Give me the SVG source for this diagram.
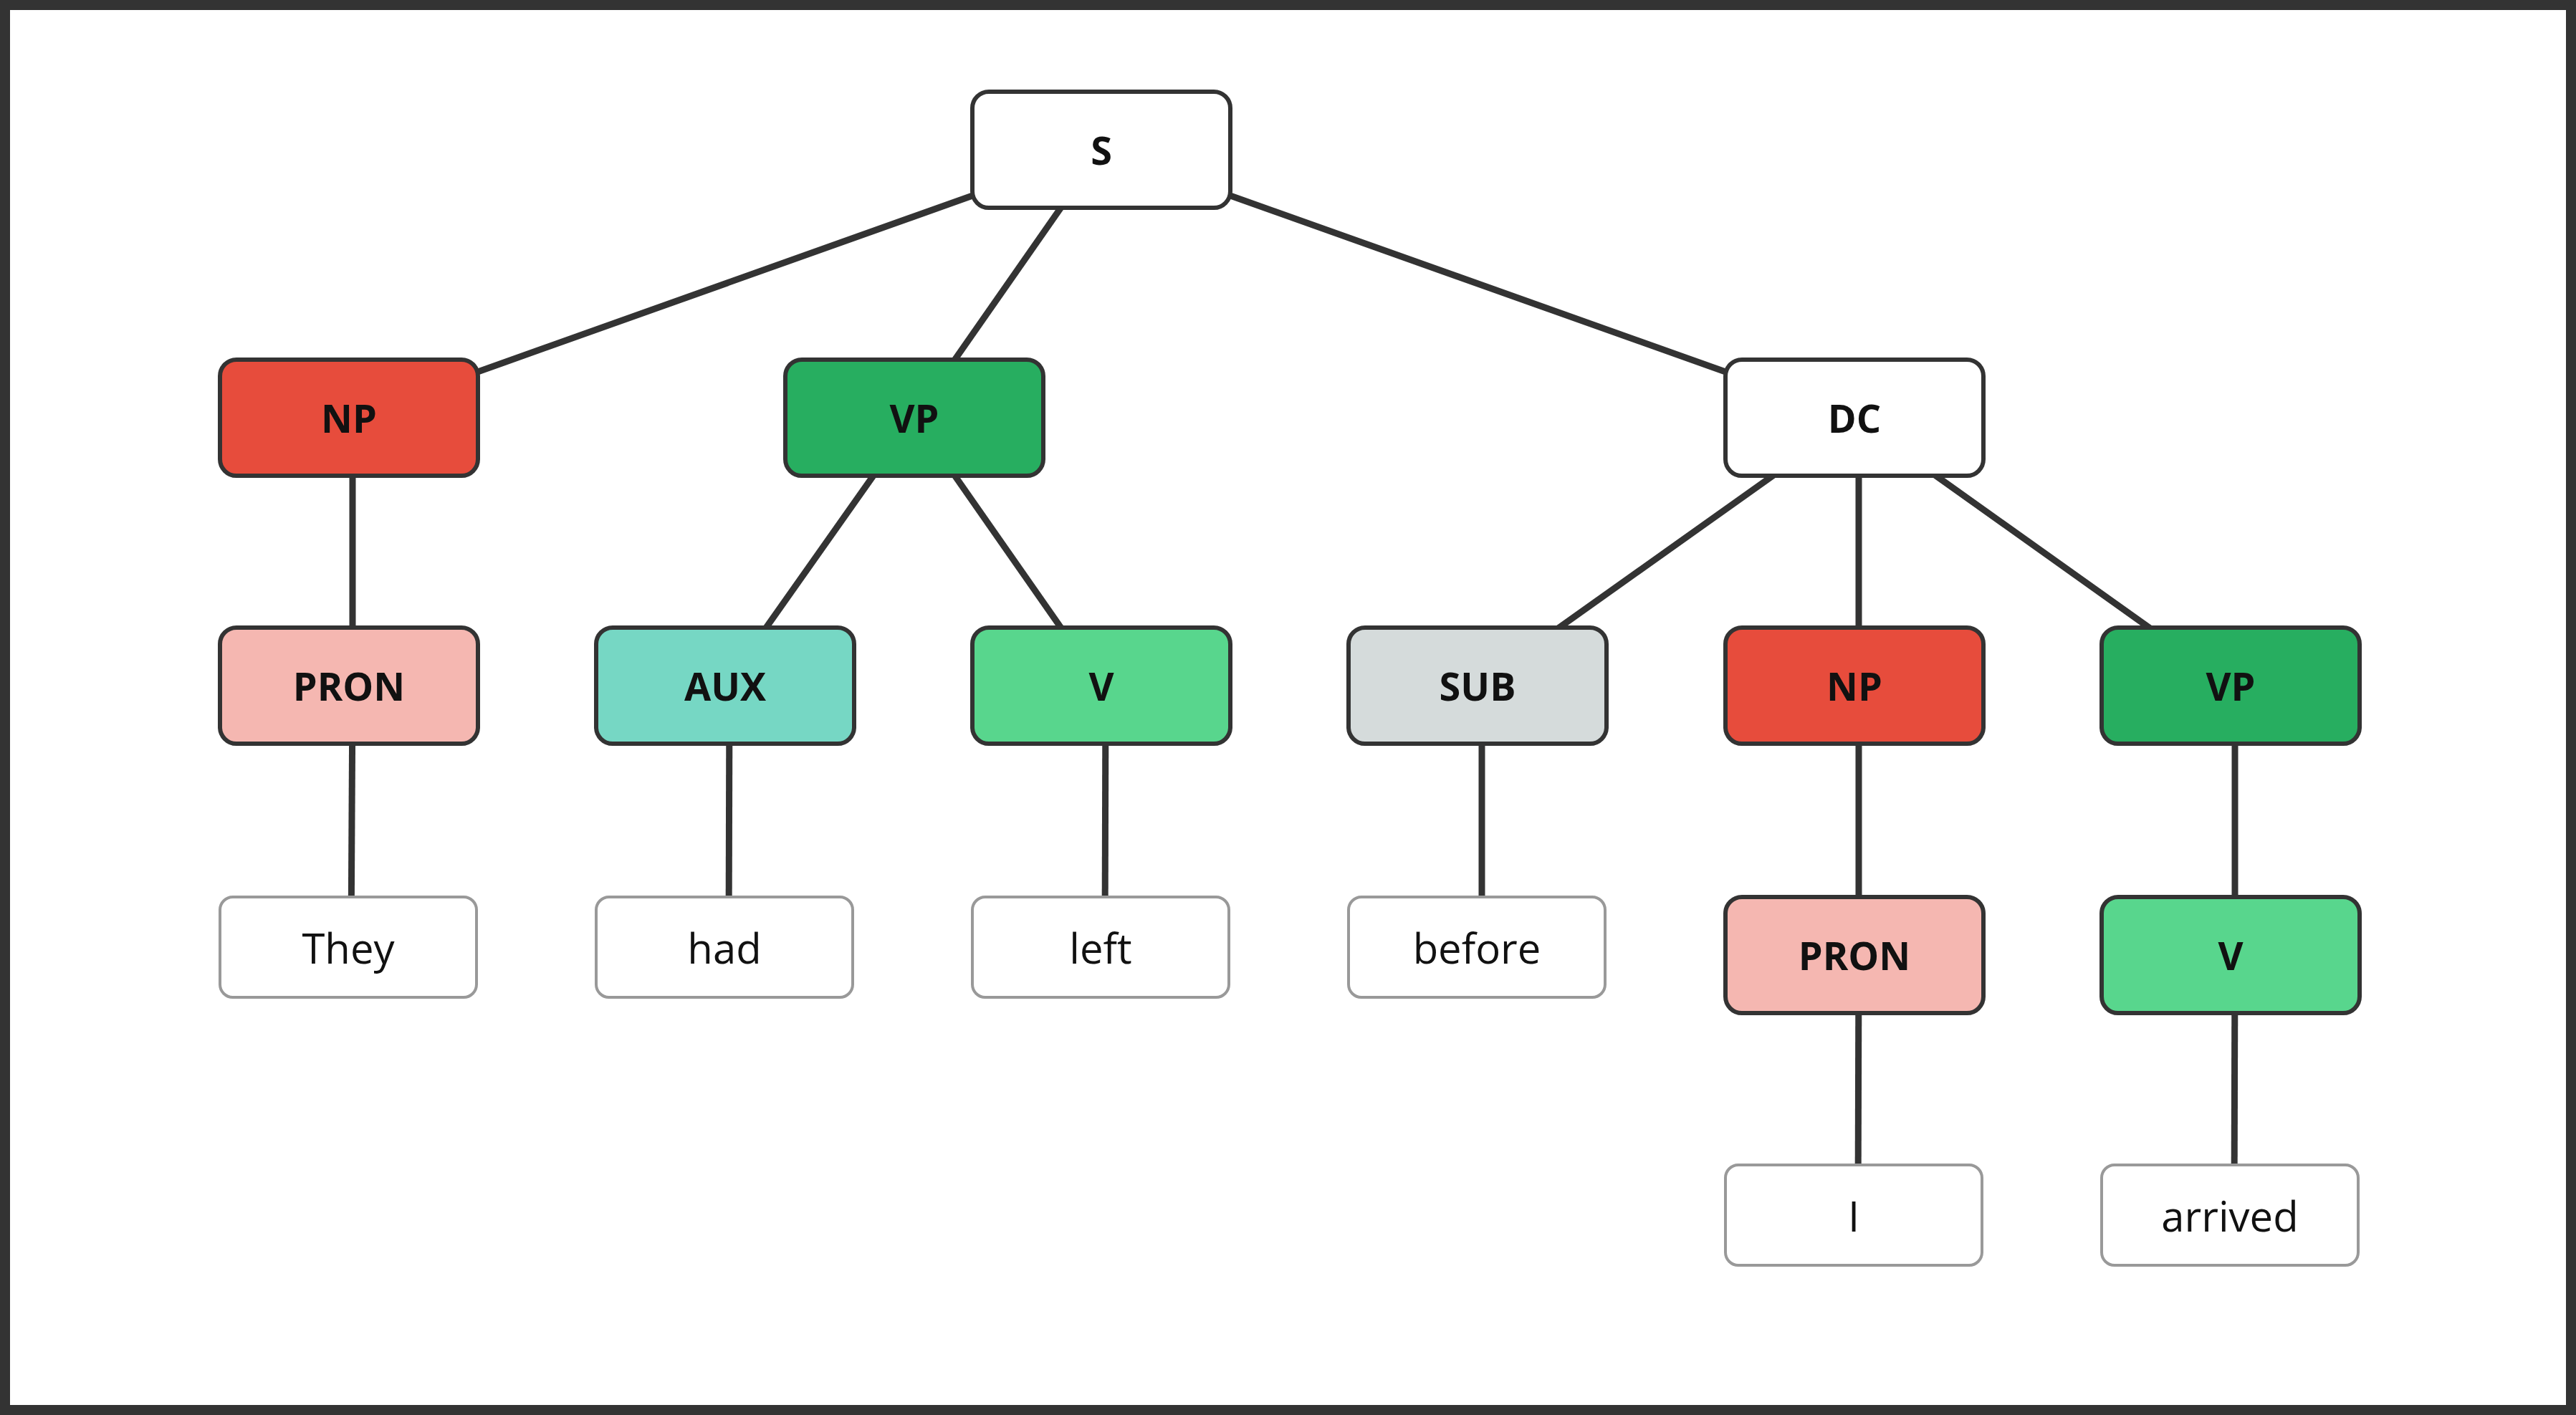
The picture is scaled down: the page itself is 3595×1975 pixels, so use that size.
<svg xmlns="http://www.w3.org/2000/svg" width="3595" height="1975" viewBox="0 0 3595 1975">
<style>
.n{stroke:#333;stroke-width:6}
.l{fill:#fff;stroke:#999;stroke-width:4}
.t{font-family:"Open Sans","Noto Sans",sans-serif;font-weight:bold;font-size:54px;fill:#111;text-anchor:middle;dominant-baseline:central}
.w{font-family:"Open Sans","Noto Sans",sans-serif;font-size:58px;fill:#111;text-anchor:middle;dominant-baseline:central}
#edges line{stroke:#333;stroke-width:9}
</style>
<rect x="0" y="0" width="3595" height="1975" fill="#fff"/>
<rect x="7" y="7" width="3581" height="1961" fill="none" stroke="#333" stroke-width="14"/>
<g id="edges">
<line x1="1537" y1="209" x2="487" y2="583"/>
<line x1="1537" y1="209" x2="1276" y2="583"/>
<line x1="1537" y1="209" x2="2588" y2="583"/>
<line x1="492" y1="583" x2="492" y2="957"/>
<line x1="492" y1="957" x2="490" y2="1322"/>
<line x1="1276" y1="583" x2="1012" y2="957"/>
<line x1="1276" y1="583" x2="1537" y2="957"/>
<line x1="1018" y1="957" x2="1017" y2="1322"/>
<line x1="1543" y1="957" x2="1542" y2="1322"/>
<line x1="2588" y1="583" x2="2062" y2="957"/>
<line x1="2594" y1="583" x2="2594" y2="957"/>
<line x1="2588" y1="583" x2="3113" y2="957"/>
<line x1="2068" y1="957" x2="2068" y2="1322"/>
<line x1="2594" y1="957" x2="2594" y2="1333"/>
<line x1="2594" y1="1333" x2="2593" y2="1696"/>
<line x1="3119" y1="957" x2="3119" y2="1333"/>
<line x1="3119" y1="1333" x2="3118" y2="1696"/>
</g>
<g id="S"><rect class="n" x="1357" y="128" width="360" height="162" rx="23" fill="#fff"/><text class="t" x="1537" y="209">S</text></g>
<g id="NP1"><rect class="n" x="307" y="502" width="360" height="162" rx="23" fill="#e74c3c"/><text class="t" x="487" y="583">NP</text></g>
<g id="VP1"><rect class="n" x="1096" y="502" width="360" height="162" rx="23" fill="#27ae60"/><text class="t" x="1276" y="583">VP</text></g>
<g id="DC"><rect class="n" x="2408" y="502" width="360" height="162" rx="23" fill="#fff"/><text class="t" x="2588" y="583">DC</text></g>
<g id="PRON1"><rect class="n" x="307" y="876" width="360" height="162" rx="23" fill="#f5b7b1"/><text class="t" x="487" y="957">PRON</text></g>
<g id="AUX"><rect class="n" x="832" y="876" width="360" height="162" rx="23" fill="#76d7c4"/><text class="t" x="1012" y="957">AUX</text></g>
<g id="V1"><rect class="n" x="1357" y="876" width="360" height="162" rx="23" fill="#58d68d"/><text class="t" x="1537" y="957">V</text></g>
<g id="SUB"><rect class="n" x="1882" y="876" width="360" height="162" rx="23" fill="#d5dbdb"/><text class="t" x="2062" y="957">SUB</text></g>
<g id="NP2"><rect class="n" x="2408" y="876" width="360" height="162" rx="23" fill="#e74c3c"/><text class="t" x="2588" y="957">NP</text></g>
<g id="VP2"><rect class="n" x="2933" y="876" width="360" height="162" rx="23" fill="#27ae60"/><text class="t" x="3113" y="957">VP</text></g>
<g id="They"><rect class="l" x="307" y="1252" width="358" height="140" rx="18"/><text class="w" x="486" y="1322">They</text></g>
<g id="had"><rect class="l" x="832" y="1252" width="358" height="140" rx="18"/><text class="w" x="1011" y="1322">had</text></g>
<g id="left"><rect class="l" x="1357" y="1252" width="358" height="140" rx="18"/><text class="w" x="1536" y="1322">left</text></g>
<g id="before"><rect class="l" x="1882" y="1252" width="358" height="140" rx="18"/><text class="w" x="2061" y="1322">before</text></g>
<g id="PRON2"><rect class="n" x="2408" y="1252" width="360" height="162" rx="23" fill="#f5b7b1"/><text class="t" x="2588" y="1333">PRON</text></g>
<g id="V2"><rect class="n" x="2933" y="1252" width="360" height="162" rx="23" fill="#58d68d"/><text class="t" x="3113" y="1333">V</text></g>
<g id="I"><rect class="l" x="2408" y="1626" width="358" height="140" rx="18"/><text class="w" x="2587" y="1696">I</text></g>
<g id="arrived"><rect class="l" x="2933" y="1626" width="358" height="140" rx="18"/><text class="w" x="3112" y="1696">arrived</text></g>
</svg>
